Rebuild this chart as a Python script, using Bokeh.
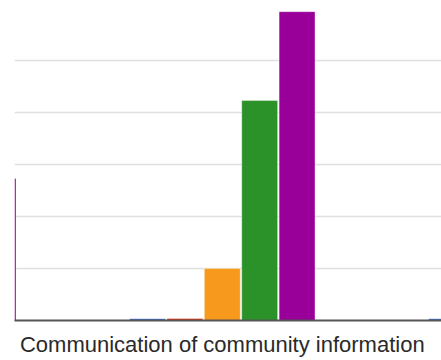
from bokeh.plotting import figure
from bokeh.models import ColumnDataSource, FixedTicker, Range1d
from bokeh.transform import dodge
from bokeh.embed import file_html
from bokeh.resources import INLINE

# Groups along the x axis; only the middle one is labelled on screen,
# its neighbours are partly scrolled out of view.
categories = ["", "Communication of community information", ""]
group_pos = [0, 1, 2]

# One series per bar colour (nan = bar not in view)
nan = float("nan")
series_blue = [nan, 0.35, 0.35]
series_red = [nan, 0.4, nan]
series_orange = [nan, 10.0, nan]
series_green = [nan, 42.3, nan]
series_purple = [27.3, 59.4, nan]

colors = ["#3366cc", "#dc3912", "#f7991d", "#2b9229", "#990099"]
offsets = [-0.25, -0.125, 0.0, 0.125, 0.25]

source = ColumnDataSource(dict(
    x=group_pos,
    blue=series_blue, red=series_red, orange=series_orange,
    green=series_green, purple=series_purple,
))
cols = ["blue", "red", "orange", "green", "purple"]

p = figure(
    frame_width=427, frame_height=320,
    output_backend="svg", toolbar_location=None,
    x_range=Range1d(0.305, 1.7331), y_range=Range1d(0, 61.54),
    min_border_left=14, min_border_right=0, min_border_top=0,
    min_border_bottom=0,
)
p.outline_line_color = None
p.background_fill_color = "white"
p.border_fill_color = "white"

for col, color, off in zip(cols, colors, offsets):
    p.vbar(x=dodge("x", off, range=p.x_range), top=col, bottom=0,
           width=0.12, source=source, fill_color=color,
           line_color="white", line_alpha=0.35, line_width=1)

p.yaxis.visible = False
p.ygrid.ticker = FixedTicker(ticks=[10, 20, 30, 40, 50])
p.ygrid.grid_line_color = "#e0e0e0"
p.ygrid.grid_line_width = 1.5
p.xgrid.visible = False

xa = p.xaxis[0]
xa.ticker = FixedTicker(ticks=[1])
xa.major_label_overrides = {1: categories[1]}
xa.major_label_text_font = "Liberation Sans"
xa.major_label_text_font_size = "22px"
xa.major_label_text_color = "#2a2a2a"
xa.major_label_standoff = 5
xa.major_tick_line_color = None
xa.minor_tick_line_color = None
xa.axis_line_color = "#555555"
xa.axis_line_width = 2

open("out.html", "w").write(file_html(p, INLINE))
